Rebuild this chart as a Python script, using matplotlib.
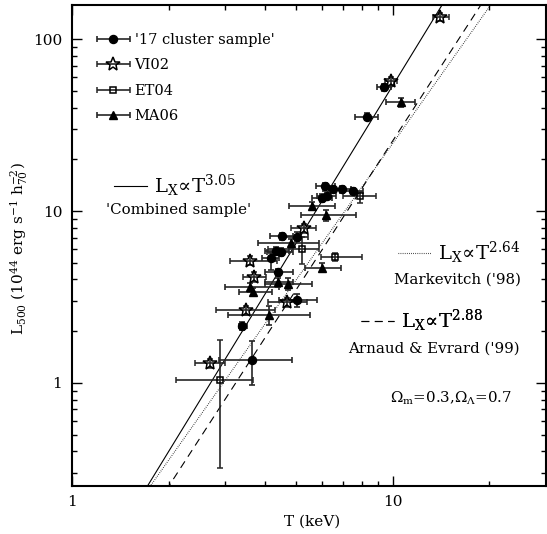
import numpy as np
import matplotlib
matplotlib.use("Agg")
import matplotlib.pyplot as plt
from matplotlib.legend_handler import HandlerErrorbar
from matplotlib.container import ErrorbarContainer
from matplotlib.ticker import FixedLocator, FuncFormatter, LogLocator, NullFormatter

plt.rcParams['font.family'] = ['DejaVu Serif']
plt.rcParams['mathtext.fontset'] = 'dejavuserif'

# ---- data ----
# '17 cluster sample' (filled circles)
cl_T = [9.37, 8.28, 6.14, 6.52, 6.95, 7.52, 6.01, 6.22, 4.50, 5.01, 4.32, 4.47, 4.16, 4.37, 5.04, 3.39, 3.65]
cl_L = [52.5, 35.4, 13.98, 13.4, 13.4, 13.1, 11.9, 12.3, 7.15, 7.09, 5.85, 5.80, 5.30, 4.40, 3.03, 2.14, 1.357]
cl_Tlo = [8.90, 7.62, 5.75, 6.05, 6.50, 6.95, 5.60, 5.80, 4.14, 4.62, 3.99, 4.05, 3.92, 3.99, 4.41, 3.31, 2.88]
cl_Thi = [9.90, 9.00, 6.60, 7.00, 7.40, 8.10, 6.45, 6.65, 4.87, 5.42, 4.74, 4.90, 4.42, 4.87, 5.81, 3.52, 4.85]
cl_Llo = [50.0, 33.8, 13.4, 12.8, 12.8, 12.5, 11.3, 11.7, 6.8, 6.69, 5.55, 5.50, 4.55, 4.18, 2.77, 2.03, 0.97]
cl_Lhi = [55.0, 37.0, 14.6, 14.0, 14.0, 13.7, 12.5, 12.9, 7.5, 7.58, 6.15, 6.10, 5.67, 4.62, 3.27, 2.25, 1.76]

# VI02 (open stars)
vi_T = [14.0, 9.84, 5.28, 3.59, 3.70, 4.69, 3.48, 2.69]
vi_L = [135.0, 57.1, 7.93, 5.14, 4.14, 2.94, 2.65, 1.30]
vi_Tlo = [13.3, 9.47, 4.80, 3.10, 3.42, 4.09, 2.81, 2.42]
vi_Thi = [15.0, 10.3, 5.78, 4.36, 4.02, 5.39, 4.29, 3.00]
vi_Llo = [127.0, 53.7, 7.45, 4.83, 3.89, 2.76, 2.49, 1.22]
vi_Lhi = [143.0, 60.5, 8.41, 5.45, 4.39, 3.12, 2.81, 1.38]

# ET04 (open squares)
et_T = [7.89, 5.20, 6.60, 2.90]
et_L = [12.3, 6.01, 5.42, 1.04]
et_Tlo = [7.01, 4.09, 5.96, 2.11]
et_Thi = [8.89, 5.89, 8.02, 3.67]
et_Llo = [11.1, 4.90, 5.15, 0.318]
et_Lhi = [12.9, 7.08, 5.70, 1.78]

# MA06 (filled triangles)
ma_T = [10.57, 5.61, 6.18, 4.80, 6.00, 4.39, 4.70, 3.60, 3.67, 4.12]
ma_L = [42.9, 10.7, 9.48, 6.49, 4.68, 3.85, 3.74, 3.60, 3.39, 2.48]
ma_Tlo = [9.50, 4.75, 5.19, 3.79, 5.32, 3.99, 3.99, 2.99, 3.31, 3.07]
ma_Thi = [11.7, 6.58, 7.66, 5.89, 6.88, 4.87, 5.60, 4.41, 4.20, 5.52]
ma_Llo = [40.5, 10.1, 8.75, 6.1, 4.40, 3.60, 3.47, 3.38, 3.19, 2.17]
ma_Lhi = [45.3, 11.3, 10.2, 6.9, 4.96, 4.10, 4.06, 3.82, 3.59, 2.80]

# power-law relations  L = 10**logA * T**slope
fit_labels = ['Combined sample', "Markevitch ('98)", "Arnaud & Evrard ('99)"]
fit_slopes = [3.05, 2.64, 2.88]
fit_logA = [-1.318, -1.245, -1.47]

x_ticks = [1, 10]
y_ticks = [1, 10, 100]

# ---- figure ----
fig = plt.figure(figsize=(5.47, 5.34), dpi=100)
ax = fig.add_axes([0.1316, 0.0904, 0.8665, 0.900])
ax.set_xscale('log')
ax.set_yscale('log')
ax.set_xlim(1, 30)
ax.set_ylim(0.252, 158)

Tgrid = np.logspace(0, np.log10(30), 200)
styles = ['-', (0, (0.6, 1.3)), (0, (7, 5))]
fit_lines = []
for s, la, ls in zip(fit_slopes, fit_logA, styles):
    ln, = ax.plot(Tgrid, 10**la * Tgrid**s, color='black', lw=0.8, ls=ls)
    fit_lines.append(ln)

ekw = dict(ecolor='0.15', elinewidth=1.2, capsize=2, capthick=1.2, ls='none', zorder=3)

def draw(T, L, Tlo, Thi, Llo, Lhi, **kw):
    T = np.array(T); L = np.array(L)
    xerr = [T - np.array(Tlo), np.array(Thi) - T]
    yerr = [L - np.array(Llo), np.array(Lhi) - L]
    ax.errorbar(T, L, xerr=xerr, yerr=yerr, **ekw, **kw)

mk_cl = dict(marker='o', ms=5.8, mfc='black', mec='black')
mk_vi = dict(marker='*', ms=10, mfc='none', mec='black', mew=1.1)
mk_et = dict(marker='s', ms=5, mfc='none', mec='black', mew=1.1)
mk_ma = dict(marker='^', ms=6.2, mfc='black', mec='black')

draw(cl_T, cl_L, cl_Tlo, cl_Thi, cl_Llo, cl_Lhi, **mk_cl)
draw(vi_T, vi_L, vi_Tlo, vi_Thi, vi_Llo, vi_Lhi, **mk_vi)
draw(et_T, et_L, et_Tlo, et_Thi, et_Llo, et_Lhi, **mk_et)
draw(ma_T, ma_L, ma_Tlo, ma_Thi, ma_Llo, ma_Lhi, **mk_ma)

# legend handles (x error bar only)
def handle(**kw):
    return ax.errorbar([np.nan], [np.nan], xerr=[1.0], ecolor='0.15', elinewidth=1.2,
                       capsize=2.5, capthick=1.2, ls='none', **kw)

hs = [handle(**mk_cl), handle(**mk_vi), handle(**mk_et), handle(**mk_ma)]
leg = ax.legend(hs, ["'17 cluster sample'", 'VI02', 'ET04', 'MA06'],
                loc='upper left', bbox_to_anchor=(0.052, 0.942), frameon=False,
                borderpad=0, borderaxespad=0, handlelength=2.3, handletextpad=0.3,
                labelspacing=0.78, fontsize=10.5, numpoints=1,
                handler_map={ErrorbarContainer: HandlerErrorbar(xerr_size=1.15)})
ax.add_artist(leg)

# fit-line annotations as small legends
lab_pos = [(0.0886, 0.6243), (0.6878, 0.4841), (0.6097, 0.3437)]
for ln, s, pos in zip(fit_lines, fit_slopes, lab_pos):
    lg = ax.legend([ln], [r'$\mathregular{L_X\!\propto\!T^{%.2f}}$' % s], loc='center left',
                   bbox_to_anchor=pos, frameon=False, borderpad=0, borderaxespad=0,
                   handlelength=1.7, handletextpad=0.35, fontsize=14)
    ax.add_artist(lg)

ax.text(0.2257, 0.5746, "'" + fit_labels[0] + "'", transform=ax.transAxes,
        ha='center', va='center', fontsize=10.8)
ax.text(0.8122, 0.4279, fit_labels[1], transform=ax.transAxes, ha='center', va='center', fontsize=10.8)
ax.text(0.7627, 0.2856, fit_labels[2], transform=ax.transAxes, ha='center', va='center', fontsize=10.8)
ax.text(0.8006, 0.1814, r'$\Omega_{\rm m}$=0.3,$\Omega_\Lambda$=0.7', transform=ax.transAxes,
        ha='center', va='center', fontsize=10.8)

# axes cosmetics
ax.xaxis.set_major_locator(FixedLocator(x_ticks))
ax.yaxis.set_major_locator(FixedLocator(y_ticks))
fmt = FuncFormatter(lambda v, p: '%g' % v)
ax.xaxis.set_major_formatter(fmt)
ax.yaxis.set_major_formatter(fmt)
ax.xaxis.set_minor_locator(LogLocator(base=10, subs=np.arange(2, 10)))
ax.yaxis.set_minor_locator(LogLocator(base=10, subs=np.arange(2, 10)))
ax.xaxis.set_minor_formatter(NullFormatter())
ax.yaxis.set_minor_formatter(NullFormatter())
ax.tick_params(which='both', direction='in', top=True, right=True, labelsize=11, width=1.0, pad=7)
ax.tick_params(which='major', length=7.5)
ax.tick_params(which='minor', length=3.8)
for sp in ax.spines.values():
    sp.set_linewidth(1.5)

ax.set_xlabel('T (keV)', fontsize=11)
ax.set_ylabel(r'L$_{500}$ (10$^{44}$ erg s$^{-1}$ h$_{70}^{-2}$)', fontsize=11)
ax.xaxis.set_label_coords(0.506, -0.061)
ax.yaxis.set_label_coords(-0.088, 0.4945)

fig.savefig('out.png', dpi=100)
